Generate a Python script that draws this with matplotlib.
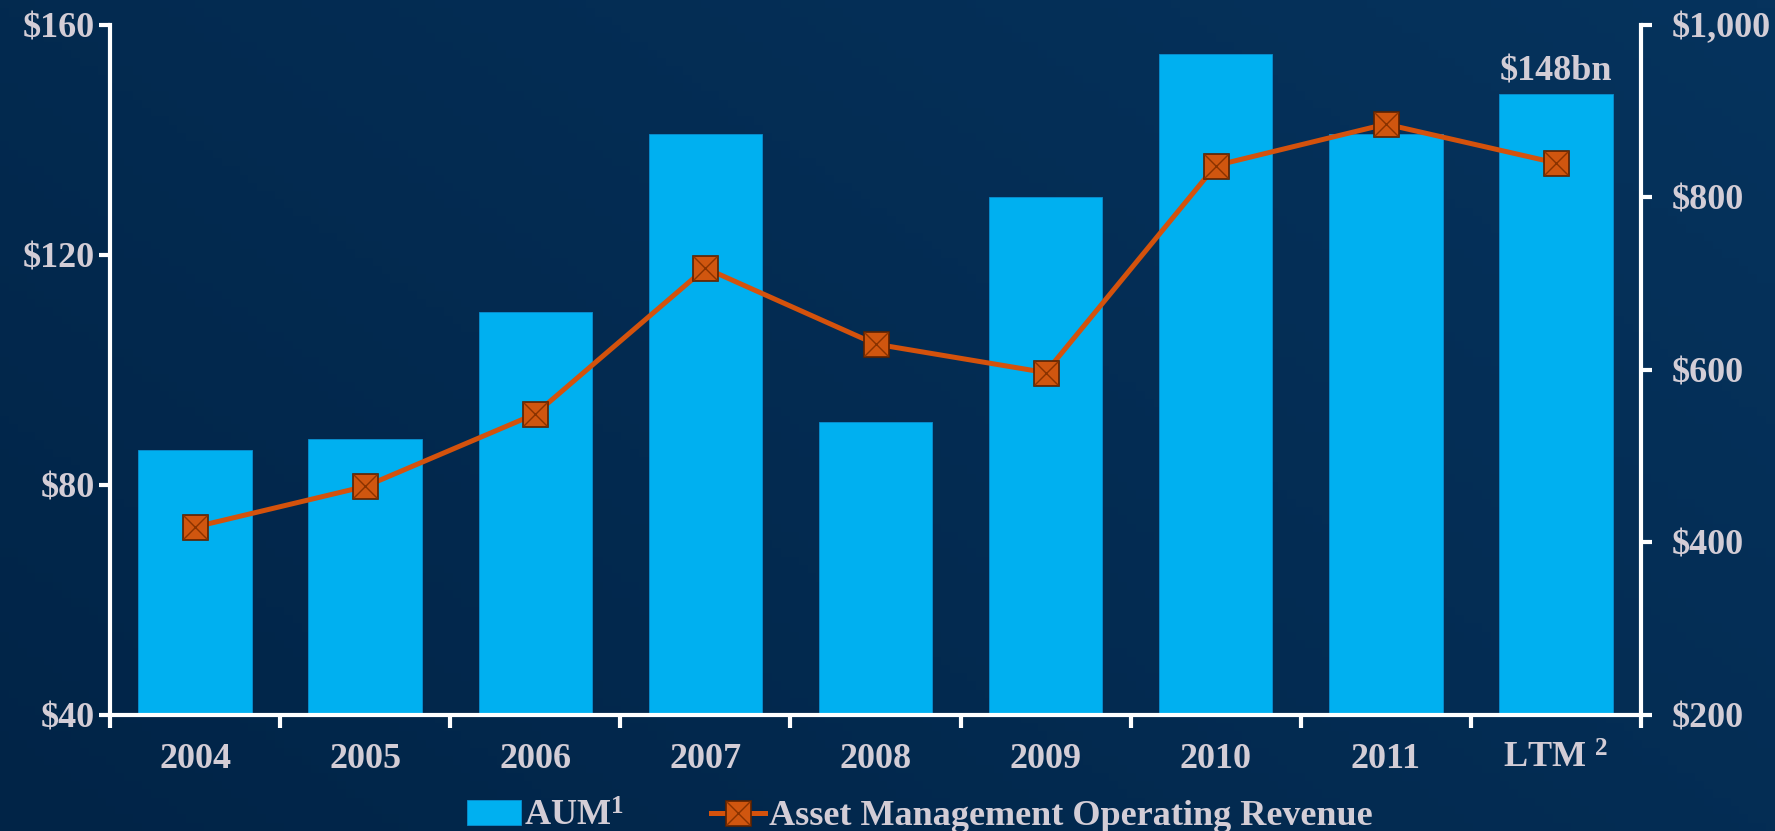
import numpy as np
import matplotlib
matplotlib.use("Agg")
import matplotlib.pyplot as plt
from matplotlib.ticker import FixedLocator, FuncFormatter

# data
categorias = ['2004', '2005', '2006', '2007', '2008', '2009', '2010', '2011', 'LTM $^{2}$']
aum = [86, 88, 110, 141, 91, 130, 155, 141, 148]
receita = [418, 465, 549, 718, 630, 597, 837, 885, 840]
ticks_esq = [40, 80, 120, 160]
ticks_dir = [200, 400, 600, 800, 1000]

plt.rcParams['font.family'] = ['Liberation Serif', 'DejaVu Serif']
plt.rcParams['font.weight'] = 'bold'
plt.rcParams['mathtext.fontset'] = 'custom'
plt.rcParams['mathtext.rm'] = 'Liberation Serif'
plt.rcParams['mathtext.default'] = 'regular'

fundo = '#02254a'
cor_barra = '#00b0f0'
cor_linha = '#d4520c'
cor_texto = '#d3cdd6'
tam = 26

fig = plt.figure(figsize=(17.75, 8.31), dpi=100)
fig.patch.set_facecolor(fundo)

# leve gradiente no fundo
bg = fig.add_axes([0, 0, 1, 1], zorder=-5)
gx, gy = np.meshgrid(np.linspace(0, 1, 200), np.linspace(0, 1, 100))
grad = 0.6 * gx + 0.4 * gy
bg.imshow(grad, cmap=matplotlib.colors.LinearSegmentedColormap.from_list('g', ['#012447', '#06335d']),
          aspect='auto', extent=[0, 1, 0, 1], origin='lower')
bg.axis('off')

ax = fig.add_axes([0.062, 0.1396, 0.8625, 0.8304])
ax.set_facecolor('none')
x = np.arange(len(categorias))
barras = ax.bar(x, aum, width=0.667, color=cor_barra, edgecolor='#0a8fd0', linewidth=0.6, zorder=2)
ax.set_ylim(40, 160)
ax.set_xlim(-0.5, len(categorias) - 0.5)
ax.set_yticks(ticks_esq)
ax.yaxis.set_major_formatter(FuncFormatter(lambda v, p: f"${v:,.0f}"))

ax.text(x[-1], aum[-1] + 1.0, '$148bn', ha='center', va='bottom',
        fontsize=tam, color=cor_texto, fontweight='bold', zorder=5)

ax2 = ax.twinx()
ax2.set_ylim(200, 1000)
ax2.set_yticks(ticks_dir)
ax2.yaxis.set_major_formatter(FuncFormatter(lambda v, p: f"${v:,.0f}"))
linha, = ax2.plot(x, receita, color=cor_linha, lw=3.6, marker='s', markersize=18,
                  markerfacecolor='#d0560f', markeredgecolor='#5c2200', markeredgewidth=1.2, zorder=4)
cruz, = ax2.plot(x, receita, linestyle='none', marker='x', markersize=17,
                 markeredgecolor='#8a3300', markeredgewidth=1.0, zorder=5)

for a in (ax, ax2):
    a.spines['top'].set_visible(False)
    for lado in ('left', 'right', 'bottom'):
        a.spines[lado].set_color('white')
        a.spines[lado].set_linewidth(3)
ax.tick_params(axis='y', colors='white', width=3, length=8, labelsize=tam, labelcolor=cor_texto, pad=3)
ax2.tick_params(axis='y', colors='white', width=3, length=8, labelsize=tam, labelcolor=cor_texto, pad=14)
ax2.spines['left'].set_visible(False)
ax2.spines['bottom'].set_visible(False)
ax.spines['right'].set_visible(False)

ax.set_xticks(x)
ax.set_xticklabels(categorias)
ax.tick_params(axis='x', which='major', length=0, labelsize=tam, labelcolor=cor_texto, pad=20)
ax.xaxis.set_minor_locator(FixedLocator(np.arange(-0.5, len(categorias), 1.0)))
ax.tick_params(axis='x', which='minor', length=9, width=3, color='white')
for t in ax.get_xticklabels() + ax.get_yticklabels() + ax2.get_yticklabels():
    t.set_fontweight('bold')

leg = fig.legend([barras, (linha, cruz)], ['AUM$^{1}$', 'Asset Management Operating Revenue'],
                 loc='lower center', bbox_to_anchor=(0.518, -0.042), ncol=2, frameon=False,
                 fontsize=26, handlelength=1.5, handletextpad=0.1, columnspacing=2.4)
for t in leg.get_texts():
    t.set_color(cor_texto)
    t.set_fontweight('bold')

fig.savefig('out.png', dpi=100, facecolor=fig.get_facecolor())
